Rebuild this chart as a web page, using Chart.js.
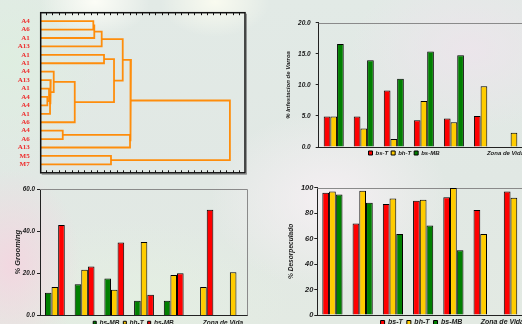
<!DOCTYPE html>
<html>
<head>
<meta charset="utf-8">
<script src="https://cdn.jsdelivr.net/npm/chart.js@4.4.0/dist/chart.umd.min.js"></script>
<style>
  html, body { margin: 0; padding: 0; }
  body {
    width: 522px; height: 324px; overflow: hidden; position: relative;
    background:
      radial-gradient(ellipse 70px 95px at 12px 265px, rgba(243,214,224,0.95), rgba(243,214,224,0)),
      radial-gradient(ellipse 55px 35px at 95px 2px, rgba(255,255,248,0.9), rgba(255,255,248,0)),
      radial-gradient(ellipse 55px 35px at 215px 2px, rgba(255,255,242,0.8), rgba(255,255,242,0)),
      radial-gradient(ellipse 120px 90px at 330px 200px, rgba(247,240,244,0.9), rgba(247,240,244,0)),
      radial-gradient(ellipse 120px 80px at 470px 50px, rgba(238,228,236,0.8), rgba(238,228,236,0)),
      radial-gradient(ellipse 160px 80px at 130px 300px, rgba(228,240,226,0.8), rgba(228,240,226,0)),
      radial-gradient(ellipse 90px 120px at 10px 60px, rgba(222,238,224,0.9), rgba(222,238,224,0)),
      linear-gradient(180deg, #e2eae6 0%, #e1e8e4 55%, #e3eae3 100%);
  }
  canvas { position: absolute; }
</style>
</head>
<body>
<canvas id="dendro" width="260" height="180" style="left:0px;top:0px"></canvas>
<canvas id="varroa" width="250" height="152" style="left:279px;top:14px"></canvas>
<canvas id="grooming" width="248" height="161" style="left:0px;top:175px"></canvas>
<canvas id="desop" width="249" height="161" style="left:280px;top:175px"></canvas>
<script>
// dendrogram: leaves top to bottom, merges in linkage order (ids 18.. are clusters)
const leafLabels = ['A4','A6','A1','A13','A1','A1','A4','A13','A1','A4','A4','A1','A6','A4','A6','A13','M5','M7'];
const mergeLeft   = [0, 18, 19, 4, 9, 8, 23, 7, 6, 26, 21, 20, 13, 30, 29, 16, 32];
const mergeRight  = [1, 2, 3, 5, 10, 22, 11, 24, 25, 12, 27, 28, 14, 15, 31, 17, 33];
const mergeHeight = [7.38, 7.53, 8.68, 9.04, 0.25, 0.51, 0.67, 0.78, 1.24, 4.50, 10.59, 11.94, 2.64, 13.07, 13.22, 10.12, 28.56];

// bar charts
const zonas = ['1', '2', '3', '4', '5', '6', '7'];

const varroaBsT  = [4.9, 4.9, 9.1, 4.3, 4.6, 5.0, null];
const varroaBhT  = [4.9, 3.0, 1.3, 7.4, 4.0, 9.8, 2.3];
const varroaBsMB = [16.6, 14.0, 11.0, 15.4, 14.8, null, null];

const groomBsMB = [10.8, 14.8, 17.6, 7.0, 7.0, null, null];
const groomBhT  = [13.5, 21.7, 12.2, 34.9, 19.2, 13.5, 20.5];
const groomBsT  = [42.9, 23.3, 34.6, 9.8, 20.0, 50.2, null];

const desopBsT  = [96.1, 71.8, 87.1, 89.7, 92.4, 82.4, 97.1];
const desopBhT  = [97.1, 97.6, 91.6, 90.5, 99.7, 63.7, 92.1];
const desopBsMB = [94.7, 88.2, 63.7, 70.3, 50.8, null, null];

const RED = '#ff0000', YELLOW = '#ffcc00', GREEN = '#008000';
const SANS = "'Liberation Sans', Arial, sans-serif";

// ---------- dendrogram ----------
const X_MIN = -0.78, X_MAX = 30.9;
const nodes = leafLabels.map((l, i) => ({ x: X_MIN, y: i + 1 }));
const dendroSets = [];
mergeHeight.forEach((h, i) => {
  const a = nodes[mergeLeft[i]], b = nodes[mergeRight[i]];
  dendroSets.push({
    data: [{x: a.x, y: a.y}, {x: h, y: a.y}, {x: h, y: b.y}, {x: b.x, y: b.y}],
    showLine: true, borderColor: 'rgba(255,136,0,0.95)', borderWidth: 1.8,
    pointRadius: 0, fill: false
  });
  nodes.push({ x: h, y: (a.y + b.y) / 2 });
});

const dendroFrame = {
  id: 'dendroFrame',
  afterDraw(chart) {
    const {ctx, chartArea: a, scales: {x}} = chart;
    ctx.save();
    ctx.strokeStyle = 'rgba(90,90,90,0.6)';
    ctx.lineWidth = 1;
    ctx.beginPath();
    ctx.moveTo(a.right + 1.5, a.top + 1); ctx.lineTo(a.right + 1.5, a.bottom + 1.5);
    ctx.lineTo(a.left + 1, a.bottom + 1.5);
    ctx.stroke();
    ctx.strokeStyle = '#111';
    ctx.lineWidth = 1.5;
    ctx.strokeRect(a.left, a.top, a.right - a.left, a.bottom - a.top);
    ctx.lineWidth = 1;
    ctx.beginPath();
    for (let v = 0; v <= 30; v++) {
      const px = Math.round(x.getPixelForValue(v)) + 0.5;
      ctx.moveTo(px, a.top); ctx.lineTo(px, a.top + 2.5);
      ctx.moveTo(px, a.bottom); ctx.lineTo(px, a.bottom - 2.5);
    }
    ctx.stroke();
    ctx.restore();
  }
};

new Chart(document.getElementById('dendro'), {
  type: 'scatter',
  data: { datasets: dendroSets },
  options: {
    responsive: false, animation: false,
    layout: { padding: { top: 12.7, right: 15, bottom: 7, left: 0 } },
    plugins: { legend: { display: false }, tooltip: { enabled: false } },
    scales: {
      x: { type: 'linear', min: X_MIN, max: X_MAX, display: false },
      y: {
        type: 'linear', min: 0, max: 19, reverse: true,
        grid: { display: false }, border: { display: false },
        ticks: {
          stepSize: 1, autoSkip: false, padding: 3,
          color: '#ee2a2a',
          font: { family: "'Liberation Serif', 'Times New Roman', serif", size: 7, weight: 'bold' },
          callback: v => leafLabels[v - 1] || ''
        },
        afterFit: s => { s.width = 40.7; }
      }
    }
  },
  plugins: [dendroFrame]
});

// ---------- bar charts ----------
const plotFrame = {
  id: 'plotFrame',
  beforeDatasetsDraw(chart) {
    const {ctx, chartArea: a} = chart;
    ctx.save();
    ctx.strokeStyle = '#8a8a8a';
    ctx.lineWidth = 1;
    ctx.beginPath();
    ctx.moveTo(a.left, Math.round(a.top) + 0.5);
    ctx.lineTo(Math.round(a.right) - 0.5, Math.round(a.top) + 0.5);
    ctx.lineTo(Math.round(a.right) - 0.5, a.bottom);
    ctx.stroke();
    ctx.restore();
  }
};

// moves the bottom legend sideways, like the hand-placed legend of the original
const legendShift = {
  id: 'legendShift',
  afterLayout(chart, args, opts) {
    const lg = chart.legend;
    if (!lg || !opts.dx) return;
    lg.left += opts.dx;
    lg.right += opts.dx;
  }
};

const zonaTitle = {
  id: 'zonaTitle',
  afterDraw(chart, args, opts) {
    const {ctx, chartArea: a, legend} = chart;
    const y = legend.top + legend.options.labels.padding + opts.size / 2;
    ctx.save();
    ctx.font = `italic bold ${opts.size}px ${SANS}`;
    ctx.fillStyle = '#222';
    ctx.textAlign = 'right';
    ctx.textBaseline = 'middle';
    ctx.fillText('Zona de Vida', a.right - 5, y);
    ctx.restore();
  }
};

function barChart(id, c) {
  return new Chart(document.getElementById(id), {
    type: 'bar',
    data: {
      labels: zonas,
      datasets: c.series.map(s => ({
        label: s[0], data: s[1], backgroundColor: s[2],
        borderColor: '#000', borderWidth: 1,
        categoryPercentage: 0.667, barPercentage: 1.0
      }))
    },
    options: {
      responsive: false, animation: false,
      layout: { padding: c.pad },
      plugins: {
        tooltip: { enabled: false },
        legend: {
          position: 'bottom',
          labels: {
            boxWidth: c.box, boxHeight: c.box, padding: c.legPad, color: '#222',
            font: { family: SANS, size: c.legSize, style: 'italic', weight: 'bold' }
          }
        },
        legendShift: { dx: c.legDx || 0 },
        zonaTitle: { size: c.legSize }
      },
      scales: {
        x: {
          grid: { display: false, drawTicks: false },
          ticks: { display: false },
          border: { color: '#222', width: 1 }
        },
        y: {
          min: 0, max: c.max,
          grid: { drawOnChartArea: false, tickLength: 3, color: '#222' },
          border: { color: '#222', width: 1 },
          ticks: {
            stepSize: c.step, padding: c.tickPad, color: '#1a1a1a',
            font: { family: SANS, size: c.tickSize, style: 'italic', weight: 'bold' },
            callback: c.fmt
          },
          title: {
            display: true, text: c.title, color: '#222',
            font: { family: SANS, size: c.titleSize, style: 'italic', weight: 'bold' },
            padding: { top: c.titleOff, bottom: 0 }
          },
          afterFit: s => { s.width = c.yWidth; }
        }
      }
    },
    plugins: [plotFrame, legendShift, zonaTitle]
  });
}

barChart('varroa', {
  series: [['bs-T', varroaBsT, RED], ['bh-T', varroaBhT, YELLOW], ['bs-MB', varroaBsMB, GREEN]],
  max: 20, step: 5, fmt: v => v.toFixed(1),
  title: '% Infestacion de Varroa', titleSize: 6, titleOff: 5.7,
  tickSize: 6.5, tickPad: 5, yWidth: 39.7,
  pad: { top: 8.3, left: 0, right: 0, bottom: 0 },
  box: 4, legPad: 3, legSize: 6
});

barChart('grooming', {
  series: [['bs-MB', groomBsMB, GREEN], ['bh-T', groomBhT, YELLOW], ['bs-MB', groomBsT, RED]],
  max: 60, step: 20, fmt: v => v.toFixed(1),
  title: '% Grooming', titleSize: 7.5, titleOff: -5.5,
  tickSize: 6.3, tickPad: 2, yWidth: 21,
  pad: { top: 14, left: 19, right: 0, bottom: 0 },
  box: 3, legPad: 4, legSize: 6.5
});

barChart('desop', {
  series: [['bs-T', desopBsT, RED], ['bh-T', desopBhT, YELLOW], ['bs-MB', desopBsMB, GREEN]],
  max: 100, step: 20, fmt: v => String(v),
  title: '% Desorpeculado', titleSize: 6.6, titleOff: 7.7,
  tickSize: 7.4, tickPad: 1, yWidth: 37.3,
  pad: { top: 12.7, left: 0, right: 0, bottom: 0 },
  box: 4, legPad: 4, legSize: 7, legDx: 17
});
</script>
</body>
</html>
